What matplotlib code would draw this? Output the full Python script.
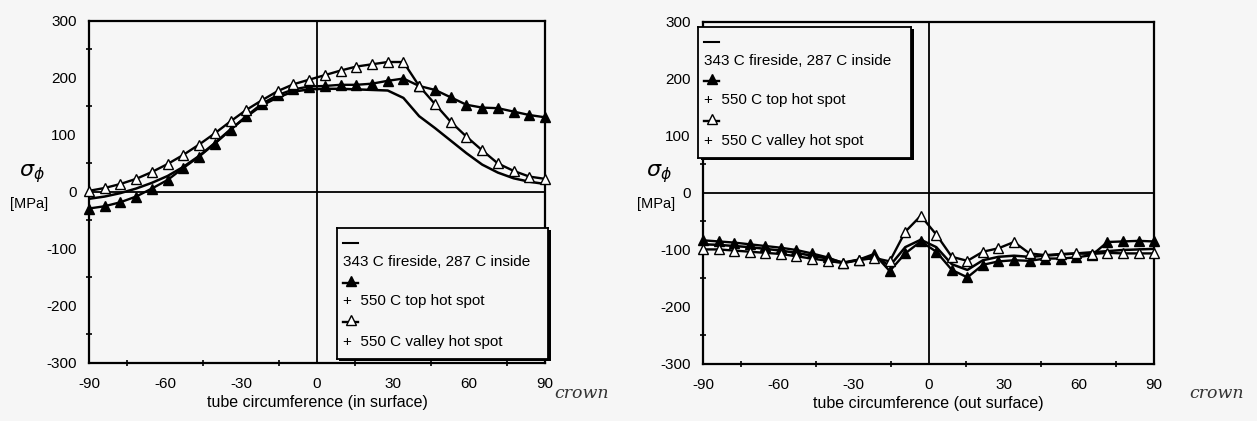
import numpy as np
import matplotlib.pyplot as plt
from matplotlib.ticker import FixedLocator
from matplotlib.patches import Rectangle

plt.rcParams['font.family'] = ['Liberation Sans', 'DejaVu Sans']
plt.rcParams['axes.unicode_minus'] = False

# angular position of each element around the tube [deg]
angle = [-90.0, -83.8, -77.6, -71.4, -65.2, -59.0, -52.8, -46.6, -40.3, -34.1,
         -27.9, -21.7, -15.5, -9.3, -3.1, 3.1, 9.3, 15.5, 21.7, 27.9,
         34.1, 40.3, 46.6, 52.8, 59.0, 65.2, 71.4, 77.6, 83.8, 90.0]

# hoop stress, inner surface [MPa]
in_base = [-12, -8, -2, 6, 16, 28, 44, 63, 86, 110,
           132, 152, 166, 176, 180, 181, 181, 180, 179, 178,
           165, 133, 112, 90, 68, 48, 34, 24, 18, 14]
in_top = [-29, -25, -18, -8, 6, 21, 42, 62, 85, 109,
          133, 155, 170, 180, 185, 186, 188, 188, 190, 195,
          199, 186, 179, 166, 153, 148, 147, 141, 135, 131]
in_valley = [2, 7, 14, 23, 35, 49, 65, 83, 103, 124,
             144, 161, 177, 189, 197, 205, 213, 220, 224, 228,
             228, 186, 154, 123, 97, 73, 50, 37, 27, 23]

# hoop stress, outer surface [MPa]
out_base = [-90, -91, -93, -95, -98, -101, -105, -110, -115, -122,
            -117, -110, -128, -95, -82, -95, -125, -135, -118, -112,
            -110, -112, -110, -108, -106, -104, -102, -100, -99, -98]
out_top = [-83, -85, -87, -90, -93, -96, -100, -106, -113, -123,
           -117, -107, -137, -106, -85, -103, -135, -148, -126, -120,
           -118, -119, -115, -115, -113, -109, -86, -85, -84, -85]
out_valley = [-99, -99, -101, -103, -105, -107, -111, -115, -119, -123,
              -118, -114, -120, -68, -40, -73, -112, -119, -103, -97,
              -86, -106, -109, -107, -106, -107, -105, -106, -106, -106]

x_ticks = [-90, -60, -30, 0, 30, 60, 90]
y_ticks = [-300, -200, -100, 0, 100, 200, 300]
x_labels = ['tube circumference (in surface)', 'tube circumference (out surface)']
legend_labels = ['343 C fireside, 287 C inside', '+  550 C top hot spot',
                 '+  550 C valley hot spot']

bg = '#f6f6f6'
fig = plt.figure(figsize=(12.57, 4.21), dpi=100, facecolor=bg)

ax_pos = [[0.0708, 0.1378, 0.3628, 0.8124], [0.5593, 0.1354, 0.3588, 0.8124]]
leg_pos = [[0.268, 0.147, 0.168, 0.311], [0.5553, 0.6247, 0.1695, 0.311]]
series = [(in_base, in_top, in_valley), (out_base, out_top, out_valley)]
label_x = [0.008, 0.507]
crown_x = [0.441, 0.946]

for i in range(2):
    ax = fig.add_axes(ax_pos[i])
    ax.set_facecolor(bg)
    base, top, valley = series[i]
    ax.axhline(0, color='black', linewidth=1.3, zorder=1)
    ax.axvline(0, color='black', linewidth=1.3, zorder=1)
    ax.plot(angle, base, color='black', linewidth=1.8, zorder=3)
    ax.plot(angle, top, color='black', linewidth=1.7, marker='^', markersize=6.5,
            markerfacecolor='black', markeredgecolor='black', zorder=4, clip_on=False)
    ax.plot(angle, valley, color='black', linewidth=1.7, marker='^', markersize=6.5,
            markerfacecolor='white', markeredgecolor='black', markeredgewidth=1.0,
            zorder=4, clip_on=False)

    ax.set_xlim(-90, 90)
    ax.set_ylim(-300, 300)
    ax.set_xticks(x_ticks)
    ax.set_xticklabels([str(t) for t in x_ticks])
    ax.set_yticks(y_ticks)
    ax.set_yticklabels([str(t) for t in y_ticks])
    ax.xaxis.set_minor_locator(FixedLocator([-75, -45, -15, 15, 45, 75]))
    ax.yaxis.set_minor_locator(FixedLocator([-250, -150, -50, 50, 150, 250]))
    ax.tick_params(which='major', length=0, labelsize=11, pad=10)
    ax.tick_params(axis='y', which='major', pad=9)
    ax.tick_params(which='minor', direction='inout', length=5, width=1.2)
    for s in ax.spines.values():
        s.set_linewidth(1.6)
    ax.set_xlabel(x_labels[i], fontsize=11.5, labelpad=3)

    fig.text(label_x[i] + 0.007, 0.588, r'$\sigma_{\phi}$', fontsize=16, ha='left', va='center')
    fig.text(label_x[i], 0.516, '[MPa]', fontsize=10.5, ha='left', va='center')
    fig.text(crown_x[i], 0.055, 'crown', fontsize=12.5, fontstyle='italic',
             family='DejaVu Serif', color='#333333')

    # legend box
    lg = fig.add_axes(leg_pos[i], zorder=5)
    lg.set_xlim(0, 1)
    lg.set_ylim(0, 1)
    lg.set_xticks([])
    lg.set_yticks([])
    lg.set_facecolor(bg)
    for s in lg.spines.values():
        s.set_linewidth(1.3)
    lg.plot([0.03, 0.1], [0.885, 0.885], color='black', linewidth=1.5)
    lg.plot([0.03, 0.1], [0.585, 0.585], color='black', linewidth=1.7)
    lg.plot([0.065], [0.6], marker='^', markersize=6.5, color='black')
    lg.plot([0.03, 0.1], [0.285, 0.285], color='black', linewidth=1.7)
    lg.plot([0.065], [0.3], marker='^', markersize=6.5, markerfacecolor='white',
            markeredgecolor='black')
    for txt, yy in zip(legend_labels, [0.74, 0.443, 0.13]):
        lg.text(0.03, yy, txt, fontsize=11, ha='left', va='center')
    fig.add_artist(Rectangle((leg_pos[i][0] + 0.002, leg_pos[i][1] - 0.005),
                             leg_pos[i][2], leg_pos[i][3], facecolor='black',
                             transform=fig.transFigure, zorder=4.5))

fig.savefig('out.png', dpi=100, facecolor=bg)
